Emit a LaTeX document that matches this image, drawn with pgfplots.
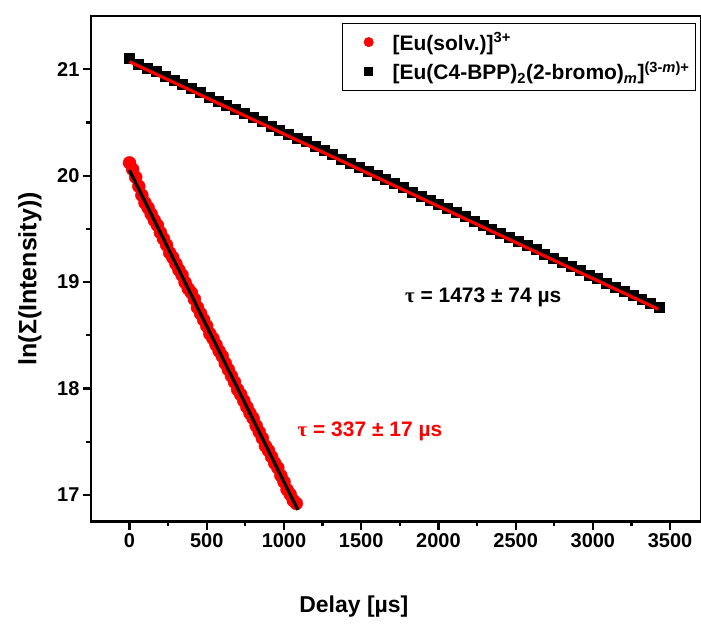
\documentclass[border=0pt]{standalone}
\usepackage{fontspec}
\setmainfont{Liberation Sans}
\newfontfamily\symf{Liberation Serif}
\usepackage{pgfplots}
\pgfplotsset{compat=1.18}
\definecolor{fitred}{HTML}{FF0000}

\begin{document}
\begin{tikzpicture}
  \begin{axis}[
    scale only axis,
    width=610.6pt, height=506pt,
    xmin=-250, xmax=3700,
    ymin=16.75, ymax=21.5,
    xtick={0,500,...,3500},
    ytick={17,18,19,20,21},
    minor x tick num=1, minor y tick num=1,
    xtick pos=bottom, ytick pos=left,
    tick align=outside,
    major tick length=8pt, minor tick length=4.5pt,
    tick style={black, line width=2.2pt},
    axis line style={line width=2.5pt},
    tick label style={font=\bfseries\fontsize{20}{24}\selectfont},
    /pgf/number format/assume math mode=true,
    /pgf/number format/1000 sep={},
    xlabel={Delay [µs]},
    ylabel={ln(Σ(Intensity))},
    xlabel style={font=\bfseries\fontsize{23}{27}\selectfont,
      at={(axis description cs:0.431,0)}, anchor=center, yshift=-85pt},
    ylabel style={font=\bfseries\fontsize{25}{29}\selectfont,
      at={(axis description cs:-0.1,0.48)}, anchor=center},
    legend style={draw=black, line width=1pt, fill=white,
      font=\bfseries\fontsize{21}{25}\selectfont,
      at={(1,1)}, anchor=north east, xshift=-5pt, yshift=-7pt,
      cells={anchor=west}, row sep=6pt, inner xsep=4pt, inner ysep=7pt},
    legend image code/.code={
      \path[draw=none, fill=none] (0pt,0pt) -- (44pt,0pt);
      \draw[#1] plot coordinates {(22pt,0pt)};},
    clip mode=individual,
  ]
  \coordinate (ll) at (rel axis cs:0,0);

  % Eu(solv.) data
  \addplot[only marks, mark=*, mark size=6.5pt, color=fitred,
    legend image post style={mark size=4.5pt}]
    coordinates {
    (0,20.120)(20,20.060)(40,19.985)(60,19.900)(80,19.816)(100,19.745)
    (120,19.699)(140,19.640)(160,19.582)(180,19.535)(200,19.465)(220,19.406)
    (240,19.348)(260,19.275)(280,19.231)(300,19.172)(320,19.114)(340,19.065)
    (360,18.996)(380,18.938)(400,18.900)(420,18.840)(440,18.762)(460,18.704)
    (480,18.645)(500,18.587)(520,18.515)(540,18.470)(560,18.411)(580,18.353)
    (600,18.305)(620,18.236)(640,18.177)(660,18.118)(680,18.060)(700,17.990)
    (720,17.943)(740,17.884)(760,17.826)(780,17.767)(800,17.720)(820,17.650)
    (840,17.592)(860,17.533)(880,17.460)(900,17.416)(920,17.358)(940,17.299)
    (960,17.255)(980,17.182)(1000,17.123)(1020,17.050)(1040,17.006)(1060,16.948)
    (1080,16.920)};
  \addlegendentry{[Eu(solv.)]\textsuperscript{3+}}

  % Eu(C4-BPP) data
  \addplot[only marks, mark=square*, mark size=5pt, color=black,
    legend image post style={mark size=4.2pt}]
    coordinates {
    (0,21.100)(57,21.051)(114,21.013)(172,20.980)(229,20.935)(286,20.896)
    (343,20.857)(400,20.818)(457,20.780)(515,20.740)(572,20.695)(629,20.663)
    (686,20.624)(743,20.586)(800,20.547)(858,20.508)(915,20.469)(972,20.430)
    (1029,20.391)(1086,20.353)(1143,20.320)(1201,20.275)(1258,20.236)(1315,20.197)
    (1372,20.159)(1429,20.120)(1486,20.081)(1544,20.042)(1601,20.003)(1658,19.964)
    (1715,19.926)(1772,19.887)(1829,19.848)(1887,19.803)(1944,19.770)(2001,19.732)
    (2058,19.693)(2115,19.654)(2172,19.616)(2230,19.576)(2287,19.537)(2344,19.499)
    (2401,19.460)(2458,19.421)(2515,19.383)(2573,19.350)(2630,19.305)(2687,19.266)
    (2744,19.227)(2801,19.188)(2858,19.150)(2916,19.110)(2973,19.066)(3030,19.033)
    (3087,18.994)(3144,18.956)(3201,18.917)(3259,18.878)(3316,18.839)(3373,18.800)
    (3430,18.761)};
  \addlegendentry{[Eu(C4-BPP)\textsubscript{2}(2-bromo)\textsubscript{\textit{m}}]\textsuperscript{(3-\textit{m})+}}

  % linear fits
  \addplot[forget plot, black, line width=3.2pt] coordinates {(0,20.05)(1090,16.86)};
  \addplot[forget plot, fitred, line width=3.2pt] coordinates {(0,21.07)(3424,18.745)};

  \node[font=\bfseries\fontsize{21}{25}\selectfont] at (axis cs:2290,18.853)
    {{\symf τ} = 1473 ± 74 µs};
  \node[text=fitred, font=\bfseries\fontsize{21}{25}\selectfont] at (axis cs:1557,17.597)
    {{\symf τ} = 337 ± 17 µs};

  \coordinate (ur) at (rel axis cs:1,1);
  \end{axis}
  \pgfresetboundingbox
  \path ([shift={(-91pt,-106pt)}]ll) rectangle ([shift={(0pt,16pt)}]ur);
\end{tikzpicture}
\end{document}
